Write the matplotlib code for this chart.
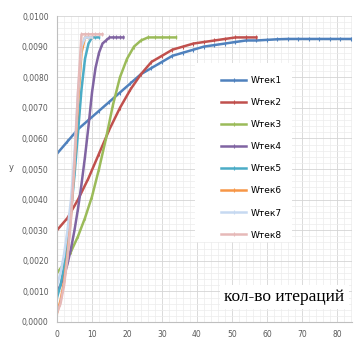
import matplotlib
matplotlib.use("Agg")
import matplotlib.pyplot as plt
from matplotlib.patches import Rectangle
from matplotlib.ticker import FuncFormatter, MultipleLocator

# ---- data ----
x1 = [0, 3, 6, 9, 12, 15, 18, 21, 24, 27, 30, 33, 36, 39, 42, 45, 48, 51, 54, 57, 60,
      63, 66, 69, 72, 75, 78, 81, 84]
y1 = [0.0055, 0.0059, 0.0063, 0.0066, 0.0069, 0.0072, 0.0075, 0.0078, 0.0081, 0.0083,
      0.0085, 0.0087, 0.0088, 0.0089, 0.0090, 0.00905, 0.0091, 0.00915, 0.0092, 0.0092,
      0.00922, 0.00924, 0.00925, 0.00925, 0.00925, 0.00925, 0.00925, 0.00925, 0.00925]

x2 = [0, 3, 6, 9, 12, 15, 18, 21, 24, 27, 30, 33, 36, 39, 42, 45, 48, 51, 54, 57]
y2 = [0.0030, 0.0034, 0.0040, 0.0047, 0.0055, 0.0063, 0.0070, 0.0076, 0.0081, 0.0085,
      0.0087, 0.0089, 0.0090, 0.0091, 0.00915, 0.0092, 0.00925, 0.0093, 0.0093, 0.0093]

x3 = [0, 2, 4, 6, 8, 10, 12, 14, 16, 18, 20, 22, 24, 26, 28, 30, 32, 34]
y3 = [0.0016, 0.0019, 0.0023, 0.0028, 0.0034, 0.0041, 0.0050, 0.0060, 0.0071, 0.0080,
      0.0086, 0.0090, 0.0092, 0.0093, 0.0093, 0.0093, 0.0093, 0.0093]

x4 = [0, 1, 2, 3, 4, 5, 6, 7, 8, 9, 10, 11, 12, 13, 14, 15, 16, 17, 18, 19]
y4 = [0.0010, 0.0012, 0.0015, 0.0019, 0.0024, 0.0030, 0.0037, 0.0045, 0.0054, 0.0064,
      0.0075, 0.0083, 0.0088, 0.0091, 0.0092, 0.0093, 0.0093, 0.0093, 0.0093, 0.0093]

x5 = [0, 1, 2, 3, 4, 5, 6, 7, 8, 9, 10, 11, 12]
y5 = [0.0008, 0.0012, 0.0018, 0.0026, 0.0036, 0.0048, 0.0062, 0.0076, 0.0086, 0.0091,
      0.0093, 0.0093, 0.0093]

x6 = [0, 1, 2, 3, 4, 5, 6, 7, 8, 9, 10]
y6 = [0.0003, 0.0007, 0.0013, 0.0022, 0.0035, 0.0052, 0.0072, 0.0088, 0.0093, 0.0093, 0.0093]

x7 = [0, 1, 2, 3, 4, 5, 6, 7, 8, 9, 10]
y7 = [0.0012, 0.0016, 0.0022, 0.0030, 0.0040, 0.0055, 0.0075, 0.0090, 0.0093, 0.0093, 0.0093]

x8 = [0, 1, 2, 3, 4, 5, 6, 7, 8, 9, 10, 11, 12, 13]
y8 = [0.0003, 0.0006, 0.0012, 0.0021, 0.0034, 0.0052, 0.0075, 0.0094, 0.0094, 0.0094,
      0.0094, 0.0094, 0.0094, 0.0094]

names = ["Wтек1", "Wтек2", "Wтек3", "Wтек4", "Wтек5", "Wтек6", "Wтек7", "Wтек8"]
colors = ["#4F81BD", "#C0504D", "#9BBB59", "#8064A2", "#4BACC6", "#F79646", "#C6D9F1", "#E6B9B8"]
series = [(x1, y1), (x2, y2), (x3, y3), (x4, y4), (x5, y5), (x6, y6), (x7, y7), (x8, y8)]

# ---- figure ----
fig = plt.figure(figsize=(3.55, 3.39), dpi=100)
ax = fig.add_axes([57 / 355, 17 / 339, 295 / 355, 306 / 339])

for (xs, ys), c, n in zip(series, colors, names):
    ax.plot(xs, ys, color=c, lw=1.8, marker="|", ms=3, mew=0.8, label=n)

ax.set_xlim(0, 84.3)
ax.set_ylim(0, 0.0100)
ax.xaxis.set_major_locator(MultipleLocator(10))
ax.xaxis.set_minor_locator(MultipleLocator(2))
ax.yaxis.set_major_locator(MultipleLocator(0.001))
ax.yaxis.set_minor_locator(MultipleLocator(0.0002))
ax.yaxis.set_major_formatter(FuncFormatter(lambda v, p: f"{v:.4f}".replace(".", ",")))
ax.grid(True, which="major", color="#D4D4D4", lw=0.6)
ax.grid(True, which="minor", color="#ECECEC", lw=0.5)
ax.set_axisbelow(True)
ax.tick_params(which="both", length=0, labelsize=5.5, labelcolor="#595959", pad=6)
for s in ["top", "right"]:
    ax.spines[s].set_visible(False)
for s in ["left", "bottom"]:
    ax.spines[s].set_color("#BFBFBF")
    ax.spines[s].set_linewidth(0.8)

fig.text(11 / 355, 1 - 168 / 339, "у", fontsize=6, color="#595959", ha="center", va="center")

# legend with white panel
bx0, bx1, by0, by1 = 195, 292, 63, 242
ax.add_patch(Rectangle(((bx0 - 57) / 295, (322 - by1) / 306), (bx1 - bx0) / 295,
                       (by1 - by0) / 306, transform=ax.transAxes, facecolor="white",
                       edgecolor="none", zorder=5))
leg = ax.legend(loc="upper left", bbox_to_anchor=((221 - 57) / 295, (322 - 76) / 306),
                frameon=False, fontsize=6.5, handlelength=2.8, handletextpad=0.5,
                labelspacing=1.45, borderpad=0, borderaxespad=0)
leg.set_zorder(6)

ax.text(0.975, (322 - 297) / 306, "кол-во итераций", transform=ax.transAxes,
        ha="right", va="center", fontsize=12.5, family="Liberation Serif", zorder=6,
        bbox=dict(facecolor="white", edgecolor="none", pad=3))

fig.savefig("out.png", dpi=100)
